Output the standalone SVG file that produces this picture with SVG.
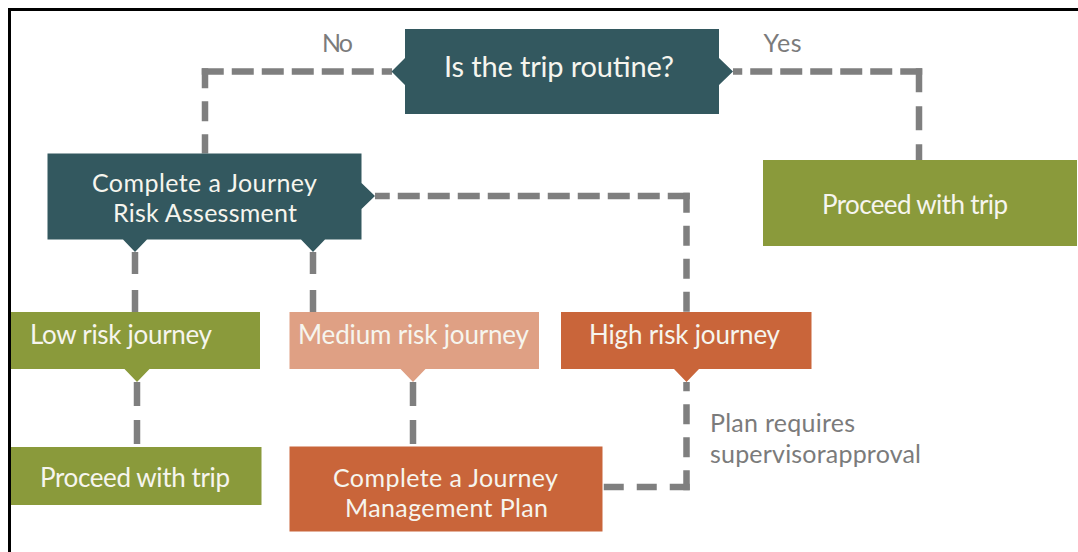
<svg xmlns="http://www.w3.org/2000/svg" width="1078" height="552" viewBox="0 0 1078 552">
  <style>
    .teal { fill: #33585f; }
    .olive { fill: #8a9a3b; }
    .salmon { fill: #dfa084; }
    .orange { fill: #c9653a; }
    .label { font-family: Lato, "Open Sans", "Liberation Sans", sans-serif; font-size: 26px; fill: #f6f5ee; }
    .two { font-size: 25px; }
    .big { font-size: 29px; }
    .note { font-family: Lato, "Open Sans", "Liberation Sans", sans-serif; font-size: 25px; fill: #7b7b7b; }
    .conn { fill: none; stroke: #7f7f7f; stroke-width: 6.5; stroke-linecap: butt; }
    .da { stroke-dasharray: 22 8; }
    .db { stroke-dasharray: 20 13; }
    .dc { stroke-dasharray: 24 14; }
    .dd { stroke-dasharray: 22 16; }
  </style>

  <rect width="1078" height="552" fill="#ffffff"/>

  <!-- connectors: each leg starts at its corner so the bends stay solid -->
  <g id="connectors">
    <!-- routine? -> No -> risk assessment -->
    <path class="conn da" d="M201.75 71.5 H392"/>
    <path class="conn db" d="M205 68.25 V153.5"/>
    <!-- routine? -> Yes -> proceed -->
    <path class="conn da" d="M922.25 71.5 H733"/>
    <path class="conn dc" d="M919 68.25 V160"/>
    <!-- risk assessment -> high risk -->
    <path class="conn da" d="M689.75 196 H375"/>
    <path class="conn db" d="M686.5 192.75 V312"/>
    <!-- risk assessment -> low / medium -->
    <path class="conn dd" d="M135 252 V312"/>
    <path class="conn dd" d="M313 252 V312"/>
    <!-- low -> proceed, medium -> management plan -->
    <path class="conn dc" d="M137 382 V445"/>
    <path class="conn dc" d="M413 382 V445"/>
    <!-- high risk -> management plan -->
    <path class="conn db" d="M686.5 490.25 V382"/>
    <path class="conn db" d="M689.75 487 H602.5"/>
  </g>

  <g id="node-routine">
    <path class="teal" d="M405 29 H719 V58 L733 71.5 L719 85 V114 H405 V85 L391.5 71.5 L405 58 Z"/>
    <text class="label big" x="444" y="77" textLength="230">Is the trip routine?</text>
  </g>

  <g id="label-no">
    <text class="note" x="322" y="52" textLength="31">No</text>
  </g>
  <g id="label-yes">
    <text class="note" x="763.5" y="52" textLength="38">Yes</text>
  </g>

  <g id="node-risk-assessment">
    <path class="teal" d="M47.5 153.5 H361.5 V183 L375 196 L361.5 209 V239.5 H325 L313 252 L301 239.5 H147 L135 252 L123 239.5 H47.5 Z"/>
    <text class="label two" x="92" y="192" textLength="225">Complete a Journey</text>
    <text class="label two" x="113" y="222" textLength="184">Risk Assessment</text>
  </g>

  <g id="node-proceed-routine">
    <rect class="olive" x="763" y="160" width="314" height="86"/>
    <text class="label" x="822" y="214" textLength="186">Proceed with trip</text>
  </g>

  <g id="node-low">
    <path class="olive" d="M10 312 H260 V369 H149.5 L137 382 L124.5 369 H10 Z"/>
    <text class="label" x="30" y="344" textLength="182">Low risk journey</text>
  </g>

  <g id="node-medium">
    <path class="salmon" d="M289.5 312 H539 V369 H425.5 L413 382 L400.5 369 H289.5 Z"/>
    <text class="label" x="298" y="344" textLength="231">Medium risk journey</text>
  </g>

  <g id="node-high">
    <path class="orange" d="M561 312 H811.5 V369 H699 L686.5 382 L674 369 H561 Z"/>
    <text class="label" x="589" y="344" textLength="191">High risk journey</text>
  </g>

  <g id="node-proceed-low">
    <rect class="olive" x="11" y="447" width="250.5" height="58"/>
    <text class="label" x="40" y="487" textLength="190">Proceed with trip</text>
  </g>

  <g id="node-management-plan">
    <rect class="orange" x="289.5" y="446.5" width="313" height="85"/>
    <text class="label two" x="333" y="487" textLength="225">Complete a Journey</text>
    <text class="label two" x="345" y="517" textLength="203">Management Plan</text>
  </g>

  <g id="label-approval">
    <text class="note" x="710" y="432" textLength="145">Plan requires</text>
    <text class="note" x="710" y="463" textLength="211">supervisorapproval</text>
  </g>

  <!-- frame -->
  <path d="M9.5 552 V9.5 H1078" fill="none" stroke="#000000" stroke-width="3"/>
</svg>
